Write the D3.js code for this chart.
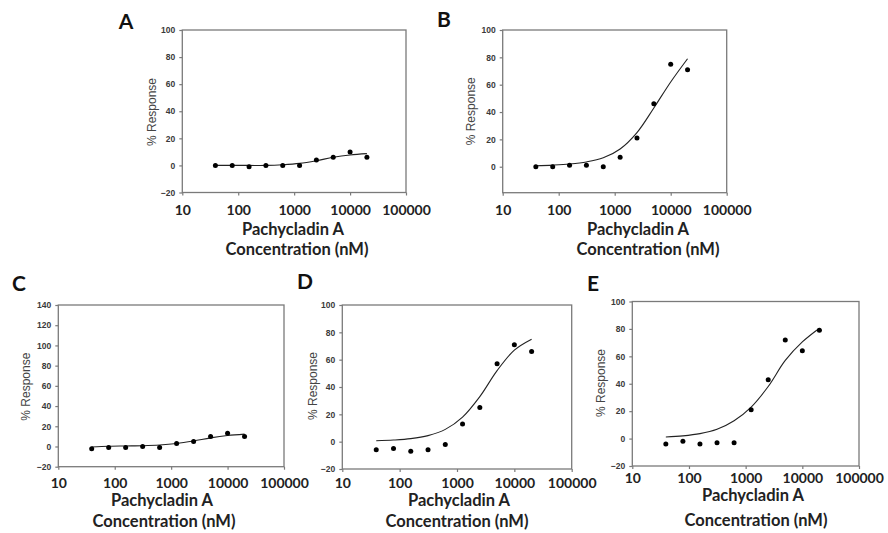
<!DOCTYPE html>
<html>
<head>
<meta charset="utf-8">
<script src="https://cdnjs.cloudflare.com/ajax/libs/d3/7.8.5/d3.min.js"></script>
<style>
  html, body { margin: 0; padding: 0; background: #fff; }
  svg { display: block; }
</style>
</head>
<body>
<svg id="chart" width="888" height="533"></svg>
<script>
// ---------- data ----------
const concentrations = [39.06, 78.13, 156.25, 312.5, 625, 1250, 2500, 5000, 10000, 20000];
const xTickLabels = [10, 100, 1000, 10000, 100000];
const panelLetters = ["A", "B", "C", "D", "E"];

const responseA = [0, 0, -1, 0, 0, 0, 4, 6, 10, 6];
const fitA      = [0, 0, 0, 0, 0.5, 1.5, 3.5, 6, 7.7, 8.7];
const responseB = [0, 0, 1, 1, 0, 7, 21, 46, 75, 71];
const fitB      = [0.7, 1.2, 2, 3.5, 6.5, 13, 25, 43, 62, 79];
const responseC = [-2.3, -1, -1, 0, -1, 3, 5, 10, 13, 10];
const fitC      = [-0.5, 0.2, 0.5, 0.8, 1.5, 3, 5.5, 8.5, 10.8, 12.2];
const responseD = [-6, -5, -7, -6, -2, 13, 25, 57, 71, 66];
const fitD      = [0.7, 1.2, 2.2, 4.4, 9, 18, 33, 52, 67, 75];
const responseE = [-4, -2, -4, -3, -3, 21, 43, 72, 64, 79];
const fitE      = [1.2, 2, 3.6, 6.8, 13, 23, 38, 57, 70.5, 80.5];

const yTicksA = [-20, 0, 20, 40, 60, 80, 100];
const yTicksB = [0, 20, 40, 60, 80, 100];
const yTicksC = [-20, 0, 20, 40, 60, 80, 100, 120, 140];
const yTicksD = [-20, 0, 20, 40, 60, 80, 100];
const yTicksE = [-20, 0, 20, 40, 60, 80, 100];

const yDomainA = [-20, 100];
const yDomainB = [-19, 100];
const yDomainC = [-20, 140];
const yDomainD = [-20, 100];
const yDomainE = [-20, 100];

const xTitleLine1 = "Pachycladin A";
const xTitleLine2 = "Concentration (nM)";
const yTitle = "% Response";

// ---------- layout ----------
const layouts = [
  { x0: 182.3, x1: 406,   y0: 30,    y1: 192.5, tickY: 215, t1: [293, 235], t2: [297, 255], letter: [126, 29],  yt: [151.7, 112] },
  { x0: 502.7, x1: 726.7, y0: 30,    y1: 192.7, tickY: 215, t1: [638, 235], t2: [648, 255], letter: [444, 27],  yt: [470.7, 111.3] },
  { x0: 58.3,  x1: 284,   y0: 305,   y1: 466.7, tickY: 488, t1: [162, 505.5], t2: [164, 527], letter: [19, 291],  yt: [26, 386.7] },
  { x0: 342.3, x1: 571.7, y0: 305,   y1: 469,   tickY: 488, t1: [459, 505.5], t2: [457, 527], letter: [305, 289], yt: [313, 386] },
  { x0: 632.3, x1: 859,   y0: 301.5, y1: 466,   tickY: 482.5, t1: [753, 501], t2: [756, 525.5], letter: [593, 291], yt: [601, 383] }
];

const panels = [
  { resp: responseA, fit: fitA, ticks: yTicksA, dom: yDomainA },
  { resp: responseB, fit: fitB, ticks: yTicksB, dom: yDomainB },
  { resp: responseC, fit: fitC, ticks: yTicksC, dom: yDomainC },
  { resp: responseD, fit: fitD, ticks: yTicksD, dom: yDomainD },
  { resp: responseE, fit: fitE, ticks: yTicksE, dom: yDomainE }
];

const svg = d3.select("#chart");
const titleFont = "Lato, 'Open Sans', sans-serif";
const tickFont = "'Liberation Sans', Arial, sans-serif";

panels.forEach((p, i) => {
  const L = layouts[i];
  const g = svg.append("g");
  const x = d3.scaleLog().domain([10, 100000]).range([L.x0, L.x1]);
  const y = d3.scaleLinear().domain(p.dom).range([L.y1, L.y0]);

  // box
  g.append("rect")
    .attr("x", L.x0).attr("y", L.y0)
    .attr("width", L.x1 - L.x0).attr("height", L.y1 - L.y0)
    .attr("fill", "none").attr("stroke", "#7a7a7a").attr("stroke-width", 1.3);

  // y axis
  const yAxis = d3.axisLeft(y).tickValues(p.ticks).tickSize(3).tickPadding(4).tickFormat(d3.format("d"));
  const ya = g.append("g").attr("transform", `translate(${L.x0},0)`).call(yAxis);
  ya.select(".domain").remove();
  ya.selectAll(".tick line").attr("stroke", "#7a7a7a").attr("stroke-width", 1.2);
  ya.selectAll(".tick text")
    .attr("font-family", tickFont).attr("font-size", 8.5).attr("font-weight", "bold")
    .attr("fill", "#3a3a3a");

  // x axis
  const xAxis = d3.axisBottom(x).tickValues(xTickLabels).tickSize(3).tickFormat(d3.format("d"));
  const xa = g.append("g").attr("transform", `translate(0,${L.y1})`).call(xAxis);
  xa.select(".domain").remove();
  xa.selectAll(".tick line").attr("stroke", "#7a7a7a").attr("stroke-width", 1.2);
  xa.selectAll(".tick text")
    .attr("y", null).attr("dy", null)
    .attr("transform", `translate(0,${L.tickY - L.y1})`)
    .attr("font-family", titleFont).attr("font-size", 14).attr("font-weight", "bold")
    .attr("fill", "#222");

  // fitted curve
  const line = d3.line()
    .x((d, k) => x(concentrations[k]))
    .y(d => y(d))
    .curve(d3.curveCatmullRom.alpha(0.5));
  g.append("path").datum(p.fit)
    .attr("d", line)
    .attr("fill", "none").attr("stroke", "#222").attr("stroke-width", 1.1);

  // points
  g.selectAll("circle.pt").data(p.resp).enter().append("circle")
    .attr("class", "pt")
    .attr("cx", (d, k) => x(concentrations[k]))
    .attr("cy", d => y(d))
    .attr("r", 2.5)
    .attr("fill", "#000");

  // titles
  g.append("text").attr("x", L.t1[0]).attr("y", L.t1[1])
    .attr("text-anchor", "middle").attr("font-family", titleFont)
    .attr("font-size", 16.5).attr("font-weight", "bold").attr("fill", "#222")
    .text(xTitleLine1);
  g.append("text").attr("x", L.t2[0]).attr("y", L.t2[1])
    .attr("text-anchor", "middle").attr("font-family", titleFont)
    .attr("font-size", 16.5).attr("font-weight", "bold").attr("fill", "#222")
    .text(xTitleLine2);

  g.append("text")
    .attr("transform", `translate(${L.yt[0]},${L.yt[1]}) rotate(-90)`)
    .attr("text-anchor", "middle").attr("dominant-baseline", "central")
    .attr("font-family", tickFont).attr("font-size", 12).attr("fill", "#444")
    .text(yTitle);

  g.append("text").attr("x", L.letter[0]).attr("y", L.letter[1])
    .attr("text-anchor", "middle").attr("font-family", titleFont)
    .attr("font-size", 21).attr("font-weight", "bold").attr("fill", "#111")
    .text(panelLetters[i]);
});
</script>
</body>
</html>
